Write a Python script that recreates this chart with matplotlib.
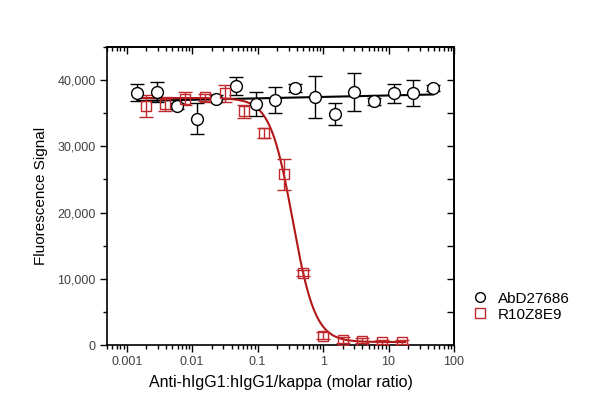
import numpy as np
import matplotlib.pyplot as plt
from matplotlib.lines import Line2D
from matplotlib.ticker import FuncFormatter, MultipleLocator, LogLocator, NullFormatter

plt.rcParams['font.family'] = ['Liberation Sans', 'DejaVu Sans']

# AbD27686 (black circles)
abd_x = [0.00146, 0.00293, 0.00586, 0.0117, 0.0234, 0.0469, 0.0938, 0.1875,
         0.375, 0.75, 1.5, 3, 6, 12, 24, 48]
abd_y = [38100, 38200, 36100, 34200, 37200, 39100, 36400, 37000,
         38800, 37500, 34900, 38200, 36800, 38000, 38100, 38800]
abd_err = [1250, 1500, 500, 2400, 500, 1300, 1800, 1900,
           600, 3150, 1650, 2850, 500, 1450, 1950, 500]

# R10Z8E9 (red squares)
r10_x = [0.00195, 0.0039, 0.0078, 0.0156, 0.03125, 0.0625, 0.125, 0.25,
         0.5, 1, 2, 4, 8, 16]
r10_y = [36100, 36400, 37200, 37400, 38000, 35300, 32000, 25800,
         10900, 1400, 760, 650, 500, 410]
r10_err = [1600, 1000, 1000, 500, 1250, 1000, 750, 2350,
           500, 500, 400, 400, 300, 300]

# fitted 4PL parameters for R10Z8E9
fit_top, fit_bottom, fit_ic50, fit_hill = 37300, 450, 0.343, 2.52

fig = plt.figure(figsize=(6, 4.18), dpi=100)
ax = fig.add_axes([107/600, 1 - 345/418, 347/600, 298/418])

red = '#c0282d'
ax.errorbar(abd_x, abd_y, yerr=abd_err, fmt='o', mfc='white', mec='black', ms=8.5,
            mew=1.0, ecolor='black', elinewidth=1.0, capsize=5, capthick=1.0, zorder=3)
ax.errorbar(r10_x, r10_y, yerr=r10_err, fmt='s', mfc='none', mec=red, ms=7.5,
            mew=1.0, ecolor=red, elinewidth=1.0, capsize=5, capthick=1.0, zorder=3)

# linear fit (in log x) for AbD27686
lx = np.log10(abd_x)
b, a = np.polyfit(lx, abd_y, 1)
xs = np.logspace(np.log10(abd_x[0]), np.log10(abd_x[-1]), 50)
ax.plot(xs, a + b * np.log10(xs), color='black', lw=1.5, zorder=2)

# 4PL curve for R10Z8E9
xr = np.logspace(np.log10(0.0014), np.log10(18), 300)
yr = fit_bottom + (fit_top - fit_bottom) / (1 + (xr / fit_ic50) ** fit_hill)
ax.plot(xr, yr, color='#b01818', lw=1.5, zorder=2)

ax.set_xscale('log')
ax.set_xlim(0.0005, 100)
ax.set_ylim(0, 45000)
ax.set_xticks([0.001, 0.01, 0.1, 1, 10, 100])
ax.set_xticklabels(['0.001', '0.01', '0.1', '1', '10', '100'])
ax.xaxis.set_minor_locator(LogLocator(base=10, subs=np.arange(2, 10), numticks=20))
ax.xaxis.set_minor_formatter(NullFormatter())
ax.set_yticks([0, 10000, 20000, 30000, 40000])
ax.yaxis.set_major_formatter(FuncFormatter(lambda v, p: f'{int(v):,}'))
ax.yaxis.set_minor_locator(MultipleLocator(5000))

for s in ax.spines.values():
    s.set_linewidth(1.2)
ax.tick_params(which='both', direction='out', labelsize=9, labelcolor='#404040',
               width=1.0, pad=3)
ax.tick_params(which='major', length=5)
ax.tick_params(which='minor', length=3)

# mirrored top/right ticks pointing inward
top = ax.secondary_xaxis('top')
top.set_xscale('log')
top.set_xticks([0.001, 0.01, 0.1, 1, 10, 100])
top.xaxis.set_minor_locator(LogLocator(base=10, subs=np.arange(2, 10), numticks=20))
top.xaxis.set_minor_formatter(NullFormatter())
top.tick_params(which='both', direction='in', labeltop=False, width=1.0)
top.tick_params(which='major', length=5)
top.tick_params(which='minor', length=3)
right = ax.secondary_yaxis('right')
right.set_yticks([0, 10000, 20000, 30000, 40000])
right.yaxis.set_minor_locator(MultipleLocator(5000))
right.tick_params(which='both', direction='in', labelright=False, width=1.0)
right.tick_params(which='major', length=5)
right.tick_params(which='minor', length=5)
top.spines['top'].set_linewidth(1.2)
right.spines['right'].set_linewidth(1.2)

ax.set_xlabel('Anti-hIgG1:hIgG1/kappa (molar ratio)', fontsize=11.5, labelpad=5)
ax.set_ylabel('Fluorescence Signal', fontsize=11, labelpad=7)

handles = [Line2D([], [], ls='none', marker='o', mfc='white', mec='black', ms=7, mew=1.0),
           Line2D([], [], ls='none', marker='s', mfc='none', mec=red, ms=6.5, mew=1.0)]
ax.legend(handles, ['AbD27686', 'R10Z8E9'], loc='upper left',
          bbox_to_anchor=(1.035, 0.2), frameon=False, fontsize=11,
          handlelength=1.0, handletextpad=0.7, labelspacing=0.15, borderaxespad=0)

fig.savefig('out.png', dpi=100)
